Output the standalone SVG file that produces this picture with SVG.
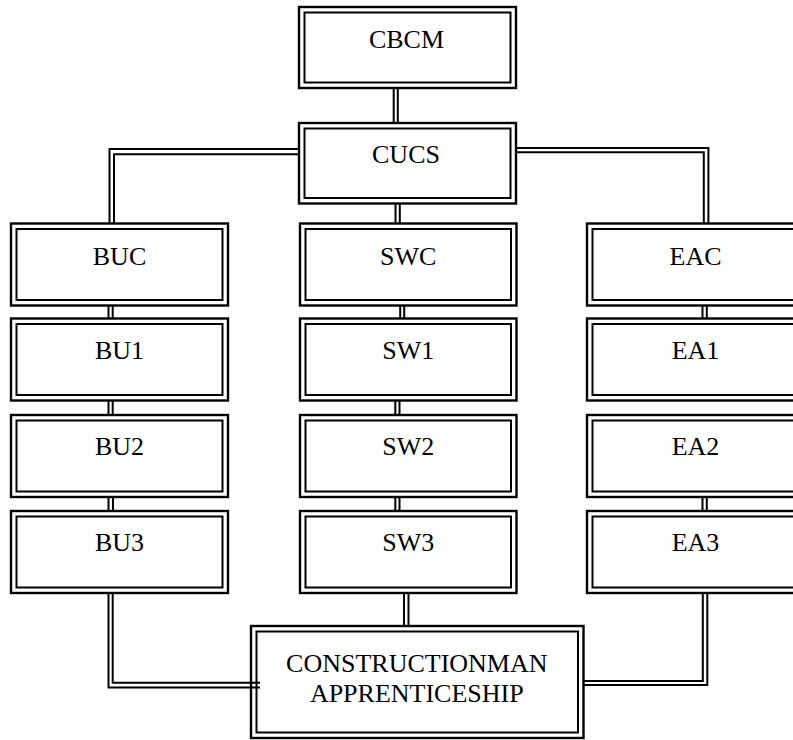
<svg xmlns="http://www.w3.org/2000/svg" width="793" height="740" viewBox="0 0 793 740">
<style>
.o{fill:#fff;stroke:#000;stroke-width:2.4}
.i{fill:none;stroke:#000;stroke-width:2}
.t{font-family:"Liberation Serif","Times New Roman",serif;font-size:26px;fill:#000;text-anchor:middle}
.c{fill:none;stroke:#000;stroke-width:2}
</style>
<rect width="793" height="740" fill="#fff"/>
<g id="CBCM"><rect class="o" x="299" y="7" width="217" height="81"/><rect class="i" x="304.5" y="12.5" width="206" height="70"/><text class="t" x="406.5" y="48.3">CBCM</text></g>
<g id="CUCS"><rect class="o" x="299" y="123" width="217" height="80.5"/><rect class="i" x="304.5" y="128.5" width="206" height="69.5"/><text class="t" x="406" y="163.3">CUCS</text></g>
<g id="BUC"><rect class="o" x="11" y="223.5" width="217" height="82"/><rect class="i" x="16.5" y="229" width="206" height="71"/><text class="t" x="119.5" y="265">BUC</text></g>
<g id="BU1"><rect class="o" x="11" y="318.5" width="217" height="82"/><rect class="i" x="16.5" y="324" width="206" height="71"/><text class="t" x="119.5" y="358.5">BU1</text></g>
<g id="BU2"><rect class="o" x="11" y="415" width="217" height="82"/><rect class="i" x="16.5" y="420.5" width="206" height="71"/><text class="t" x="119.5" y="455">BU2</text></g>
<g id="BU3"><rect class="o" x="11" y="511" width="217" height="82"/><rect class="i" x="16.5" y="516.5" width="206" height="71"/><text class="t" x="119.5" y="551">BU3</text></g>
<g id="SWC"><rect class="o" x="300" y="223.5" width="216.5" height="82"/><rect class="i" x="305.5" y="229" width="205.5" height="71"/><text class="t" x="408.2" y="265">SWC</text></g>
<g id="SW1"><rect class="o" x="300" y="318.5" width="216.5" height="82"/><rect class="i" x="305.5" y="324" width="205.5" height="71"/><text class="t" x="408.2" y="358.5">SW1</text></g>
<g id="SW2"><rect class="o" x="300" y="415" width="216.5" height="82"/><rect class="i" x="305.5" y="420.5" width="205.5" height="71"/><text class="t" x="408.2" y="455">SW2</text></g>
<g id="SW3"><rect class="o" x="300" y="511" width="216.5" height="82"/><rect class="i" x="305.5" y="516.5" width="205.5" height="71"/><text class="t" x="408.2" y="551">SW3</text></g>
<g id="EAC"><rect class="o" x="587" y="223.5" width="217" height="82"/><rect class="i" x="592.5" y="229" width="206" height="71"/><text class="t" x="695.5" y="265">EAC</text></g>
<g id="EA1"><rect class="o" x="587" y="318.5" width="217" height="82"/><rect class="i" x="592.5" y="324" width="206" height="71"/><text class="t" x="695.5" y="358.5">EA1</text></g>
<g id="EA2"><rect class="o" x="587" y="415" width="217" height="82"/><rect class="i" x="592.5" y="420.5" width="206" height="71"/><text class="t" x="695.5" y="455">EA2</text></g>
<g id="EA3"><rect class="o" x="587" y="511" width="217" height="82"/><rect class="i" x="592.5" y="516.5" width="206" height="71"/><text class="t" x="695.5" y="551">EA3</text></g>
<g id="CA"><rect class="o" x="251" y="626" width="332.5" height="112"/><rect class="i" x="256.5" y="631.5" width="321.5" height="101"/><text class="t" x="416.8" y="672.3">CONSTRUCTIONMAN</text><text class="t" x="416.8" y="701.7">APPRENTICESHIP</text></g>
<g id="connectors">
<path class="c" d="M393.7,88V123M397.8,88V123"/>
<path class="c" d="M395.5,203.5V224M399.8,203.5V224"/>
<path class="c" d="M109.5,224V149H299M114,224V154.2H299"/>
<path class="c" d="M516,148H708.4V224M516,152.2H703.8V224"/>
<path class="c" d="M108.5,305V319M112.7,305V319"/>
<path class="c" d="M108.5,400V415.5M112.7,400V415.5"/>
<path class="c" d="M108.5,496.5V511.5M113,496.5V511.5"/>
<path class="c" d="M400.2,305V319M404.2,305V319"/>
<path class="c" d="M395.3,400V415.5M399.5,400V415.5"/>
<path class="c" d="M395.3,496.5V511.5M399.5,496.5V511.5"/>
<path class="c" d="M702.5,305V319M706.8,305V319"/>
<path class="c" d="M702.5,496.5V511.5M706.8,496.5V511.5"/>
<path class="c" d="M108.5,592.5V687.5H260M112.7,592.5V682.7H260"/>
<path class="c" d="M404,592.5V627M408.5,592.5V627"/>
<path class="c" d="M707.3,592.5V685H583M702.8,592.5V681H583"/>
</g>
</svg>
